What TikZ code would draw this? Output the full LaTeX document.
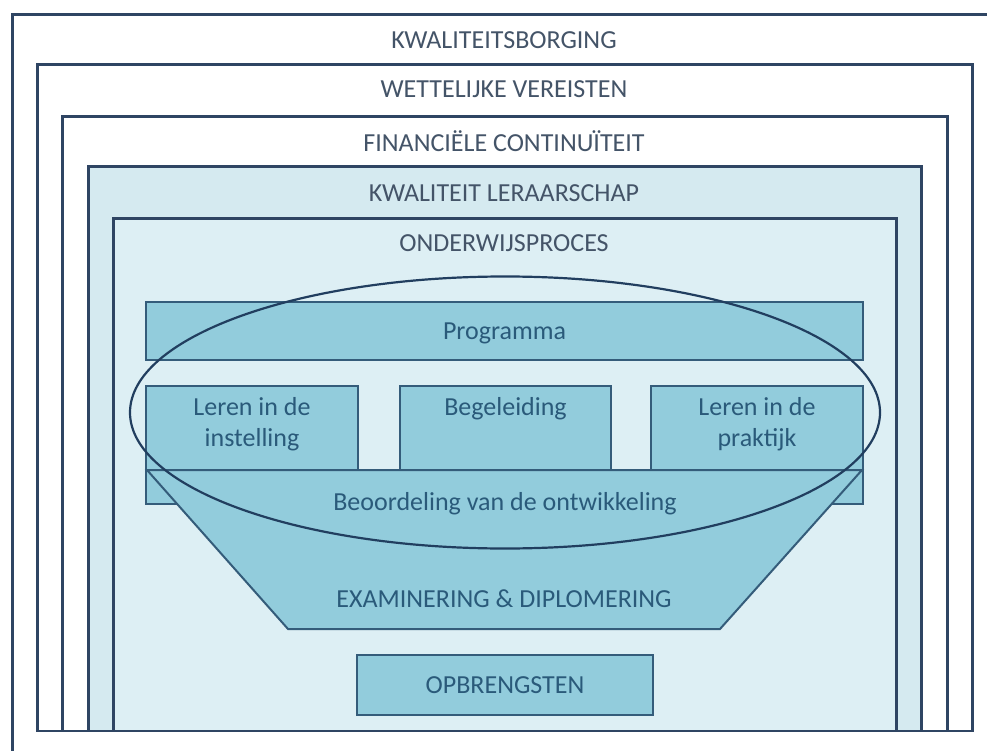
\documentclass[tikz,border=0pt]{standalone}
\usepackage{fontspec}
\setmainfont{Carlito}
\usetikzlibrary{shapes.geometric}
\definecolor{navy}{RGB}{47,69,99}
\definecolor{ringc}{RGB}{33,62,95}
\definecolor{boxline}{RGB}{52,92,122}
\definecolor{aqua}{RGB}{146,204,220}
\definecolor{paleA}{RGB}{213,234,240}
\definecolor{paleB}{RGB}{221,239,244}
\definecolor{titletxt}{RGB}{68,84,104}
\definecolor{innertxt}{RGB}{42,90,122}
\tikzset{
  frame/.style={draw=navy, line width=2.5pt, inner sep=0pt, outer sep=0pt, anchor=north west},
  inbox/.style={draw=boxline, fill=aqua, line width=2pt, inner sep=0pt, outer sep=0pt, anchor=north west},
  ttl/.style={font=\fontsize{26}{30}\selectfont, text=titletxt, anchor=base, inner sep=0pt},
  itxt/.style={font=\fontsize{26}{30}\selectfont, text=innertxt, anchor=base, inner sep=0pt},
}
\begin{document}
\begin{tikzpicture}[x=1pt,y=-1pt]
\useasboundingbox (0,0) rectangle (987,751);
\fill[white] (0,0) rectangle (987,751);
\clip (0,0) rectangle (987,751);
% nested frames
\node[frame, fill=white, minimum width=997.5pt, minimum height=755.3pt] (b1) at (12.5,14.7) {};
\node[frame, fill=white, minimum width=934.6pt, minimum height=666.7pt] (b2) at (37.7,64.3) {};
\node[frame, fill=white, minimum width=885pt, minimum height=614.3pt] (b3) at (62.3,116.7) {};
\node[frame, fill=paleA, minimum width=833.2pt, minimum height=564.3pt] (b4) at (88.3,166.7) {};
\node[frame, fill=paleB, minimum width=783.4pt, minimum height=512.7pt] (b5) at (113.3,218.3) {};
% titles
\node[ttl] (t1) at (504,48.4) {KWALITEITSBORGING};
\node[ttl] (t2) at (504,97.4) {WETTELIJKE VEREISTEN};
\node[ttl] (t3) at (504,151.4) {FINANCIËLE CONTINUÏTEIT};
\node[ttl] (t4) at (504,201.4) {KWALITEIT LERAARSCHAP};
\node[ttl] (t5) at (504,251.4) {ONDERWIJSPROCES};
% inner process
\node[inbox, minimum width=717pt, minimum height=34pt] (beo) at (146,470) {};
\draw[draw=boxline, fill=aqua, line width=2pt, line join=miter] (147,470) -- (862,470) -- (720,629) -- (288,629) -- cycle;
\node[inbox, minimum width=717pt, minimum height=58pt] (prog) at (146,302) {};
\node[inbox, minimum width=212.3pt, minimum height=84pt] (ler1) at (146,386) {};
\node[inbox, minimum width=211pt, minimum height=84pt] (beg) at (400,386) {};
\node[inbox, minimum width=212.3pt, minimum height=84pt] (ler2) at (650.7,386) {};
\node[inbox, minimum width=295.4pt, minimum height=60pt] (opb) at (357.3,655) {};
% inner texts
\node[itxt] (tprog) at (504.5,339) {Programma};
\node[itxt] (tler1a) at (252,415) {Leren in de};
\node[itxt] (tler1b) at (252,446) {instelling};
\node[itxt] (tbeg) at (505.5,415) {Begeleiding};
\node[itxt] (tler2a) at (757,415) {Leren in de};
\node[itxt] (tler2b) at (757,446) {praktijk};
\node[itxt] (tbeo) at (505,510) {Beoordeling van de ontwikkeling};
\node[itxt] (texa) at (504,607) {EXAMINERING \& DIPLOMERING};
\node[itxt] (topb) at (505,693) {OPBRENGSTEN};
% ellipse
\node[ellipse, draw=ringc, line width=2.2pt, inner sep=0pt, outer sep=0pt,
      minimum width=750pt, minimum height=272pt] (ring) at (505,412.5) {};
\end{tikzpicture}
\end{document}
